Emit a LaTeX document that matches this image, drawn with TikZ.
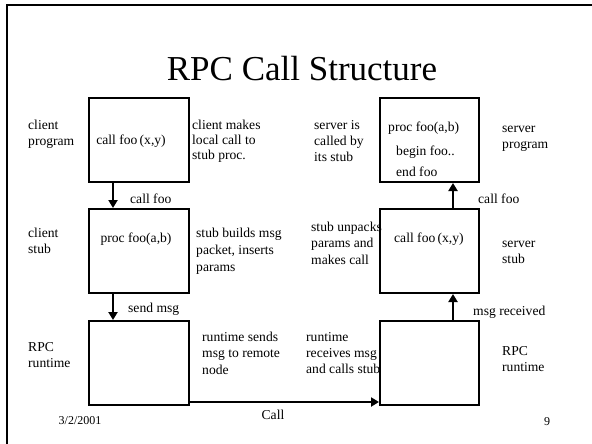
\documentclass[tikz,border=0pt]{standalone}
\usepackage{fontspec}
\setmainfont{Liberation Serif}
\usetikzlibrary{arrows.meta}
\begin{document}
\begin{tikzpicture}[x=1pt,y=-1pt,
  box/.style={draw, line width=2pt, anchor=north west, inner sep=0pt,
    minimum width=100pt, minimum height=84pt},
  lbl/.style={anchor=north west, inner sep=0pt, align=left,
    font=\fontsize{13.6}{16}\selectfont},
  lblb/.style={anchor=north west, inner sep=0pt, align=left,
    font=\fontsize{13.6}{16.5}\selectfont},
  one/.style={anchor=base west, inner sep=0pt, font=\fontsize{13.6}{16}\selectfont},
  onec/.style={anchor=base, inner sep=0pt, font=\fontsize{13.6}{16}\selectfont},
  small/.style={anchor=base, inner sep=0pt, font=\fontsize{12}{14}\selectfont},
  titlestyle/.style={anchor=base, inner sep=0pt, font=\fontsize{35}{40}\selectfont},
  conn/.style={line width=2pt, -{Triangle[length=8pt,width=9pt]}}]
\useasboundingbox (0,0) rectangle (592,444);
\draw[line width=2.2pt] (7,444) -- (7,5) -- (592,5);

\node[titlestyle] (title) at (302,81) {RPC Call Structure};

% boxes
\node[box] (b1) at (88,97) {};
\node[box] (b2) at (88,208) {};
\node[box] (b3) at (88,320) {};
\node[box, minimum width=99pt] (b4) at (379,97) {};
\node[box, minimum width=99pt] (b5) at (379,208) {};
\node[box, minimum width=99pt] (b6) at (379,320) {};

% connectors
\draw[conn] ([xshift=25pt]b1.south west) -- ([xshift=25pt]b2.north west);
\draw[conn] ([xshift=25pt]b2.south west) -- ([xshift=25pt]b3.north west);
\draw[conn] ([xshift=74pt]b6.north west) -- ([xshift=74pt]b5.south west);
\draw[conn] ([xshift=74pt]b5.north west) -- ([xshift=74pt]b4.south west);
\draw[conn] ([yshift=4pt]b3.south east) -- ([yshift=4pt]b6.south west);

% left column
\node[lbl] (cp) at (28,117.8) {\strut client\\program};
\node[onec] (t1) at (131,144) {call foo\,(x,y)};
\node[lbl, font=\fontsize{13.6}{15}\selectfont] (d1) at (192,118.5) {\strut client makes\\local call to\\stub proc.};
\node[one] (l1) at (130,203) {call foo};
\node[lbl] (cs) at (28,225.8) {\strut client\\stub};
\node[onec] (t2) at (136,242) {proc foo(a,b)};
\node[lbl, font=\fontsize{13.6}{17}\selectfont] (d2) at (196,225.1) {\strut stub builds msg\\packet, inserts\\params};
\node[one] (l2) at (128,312) {send msg};
\node[lbl] (rr1) at (28,339.8) {\strut RPC\\runtime};
\node[lblb] (d3) at (202,329.45) {\strut runtime sends\\msg to remote\\node};
\node[small] (date) at (80,424) {3/2/2001};
\node[onec] (calllbl) at (273,419) {Call};

% right column
\node[lbl] (d4) at (314,117.8) {\strut server is\\called by\\its stub};
\node[one] (t4a) at (388,131) {proc foo(a,b)};
\node[one] (t4b) at (396,155) {begin foo..};
\node[one] (t4c) at (396,176) {end foo};
\node[lbl] (sp) at (502,120.8) {\strut server\\program};
\node[one] (l4) at (478,203) {call foo};
\node[lblb] (d5) at (311,219.45) {\strut stub unpacks\\params and\\makes call};
\node[one] (t5) at (394,242) {call foo\,(x,y)};
\node[lbl] (ss) at (502,235.8) {\strut server\\stub};
\node[one] (l5) at (473,315) {msg received};
\node[lbl] (d6) at (306,329.8) {\strut runtime\\receives msg\\and calls stub};
\node[lbl] (rr2) at (502,343.8) {\strut RPC\\runtime};
\node[small] (pg) at (547,425) {9};
\end{tikzpicture}
\end{document}
